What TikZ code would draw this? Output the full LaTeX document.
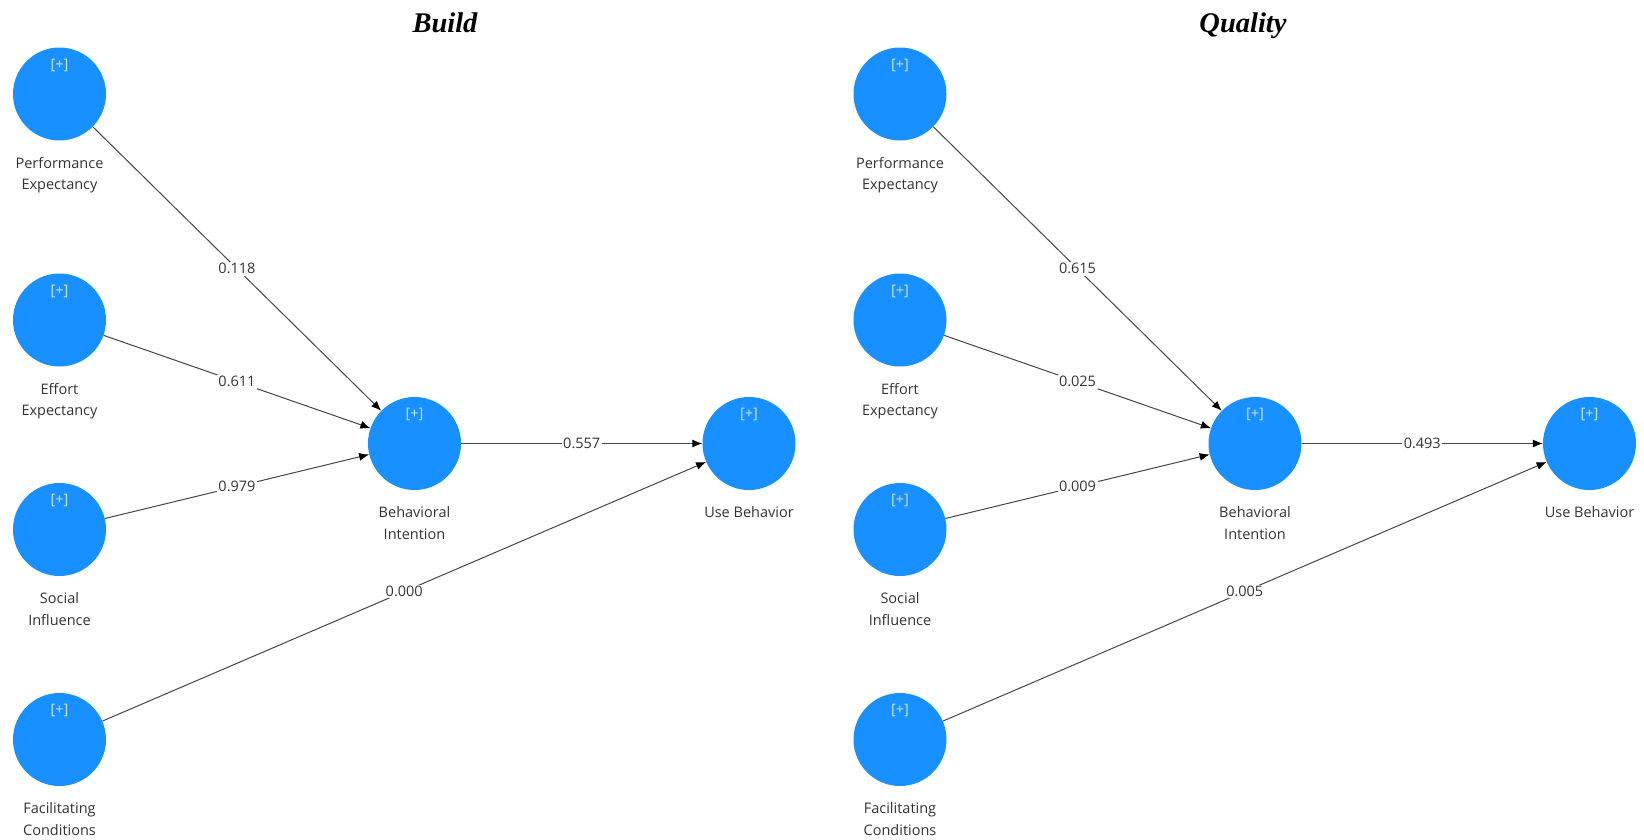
\documentclass[tikz,border=0pt]{standalone}
\usepackage{fontspec}
\setmainfont{Open Sans}
\newfontfamily\titlefont{Liberation Serif}
\usetikzlibrary{arrows.meta}
\definecolor{constructblue}{RGB}{24,144,255}
\definecolor{plustext}{RGB}{205,228,255}
\definecolor{labelgray}{RGB}{51,51,51}
\definecolor{pathgray}{RGB}{70,70,70}

\begin{document}
\begin{tikzpicture}[x=1pt,y=-1pt,
  construct/.style={circle, fill=constructblue, minimum size=93pt, inner sep=0pt},
  plustag/.style={text=plustext, font=\fontsize{14.5}{16}\selectfont, inner sep=0pt},
  caption/.style={anchor=north, align=center, text=labelgray,
    font=\fontsize{14.5}{21.5}\selectfont, inner sep=0pt},
  relpath/.style={draw=pathgray, line width=1pt,
    -{Latex[length=10pt,width=8pt,color=black]}},
  coef/.style={fill=white, text=labelgray, font=\fontsize{14.5}{17}\selectfont,
    inner sep=1.5pt},
  paneltitle/.style={font=\titlefont\bfseries\itshape\fontsize{28.5}{32}\selectfont,
    anchor=base}
]
\fill[white] (0,0) rectangle (1644,839);
\useasboundingbox (0,0) rectangle (1644,839);

% two structural models side by side: x offset, name prefix, title, path coefficients
\foreach \ox/\p/\tx/\ttl/\cpe/\cee/\csi/\cbi/\cfc in
  {0/L/445/Build/0.118/0.611/0.979/0.557/0.000,
   840.5/R/402.5/Quality/0.615/0.025/0.009/0.493/0.005}{
  \begin{scope}[xshift=\ox pt]
    \node[paneltitle] (\p title) at (\tx,32) {\ttl};

    % constructs
    \node[construct] (\p pe) at (59.5,94)    {};
    \node[construct] (\p ee) at (59.5,320)   {};
    \node[construct] (\p si) at (59.5,529.5) {};
    \node[construct] (\p fc) at (59.5,739.5) {};
    \node[construct] (\p bi) at (414.5,443.5) {};
    \node[construct] (\p ub) at (749,443.5)  {};

    % expand markers near the top of each construct
    \foreach \c in {pe,ee,si,fc,bi,ub}{
      \node[plustag] (\p\c plus) at ([yshift=29pt]\p\c.center) {[+]};
    }

    % construct names
    \node[caption] (\p pelbl) at ([yshift=-63pt]\p pe.center) {Performance\\Expectancy};
    \node[caption] (\p eelbl) at ([yshift=-63pt]\p ee.center) {Effort\\Expectancy};
    \node[caption] (\p silbl) at ([yshift=-63pt]\p si.center) {Social\\Influence};
    \node[caption] (\p fclbl) at ([yshift=-63pt]\p fc.center) {Facilitating\\Conditions};
    \node[caption] (\p bilbl) at ([yshift=-63pt]\p bi.center) {Behavioral\\Intention};
    \node[caption] (\p ublbl) at ([yshift=-63pt]\p ub.center) {Use Behavior};

    % structural paths with coefficients
    \draw[relpath] (\p pe) -- node[coef] {\cpe} (\p bi);
    \draw[relpath] (\p ee) -- node[coef] {\cee} (\p bi);
    \draw[relpath] (\p si) -- node[coef] {\csi} (\p bi);
    \draw[relpath] (\p bi) -- node[coef] {\cbi} (\p ub);
    \draw[relpath] (\p fc) -- node[coef] {\cfc} (\p ub);
  \end{scope}
}
\end{tikzpicture}
\end{document}
